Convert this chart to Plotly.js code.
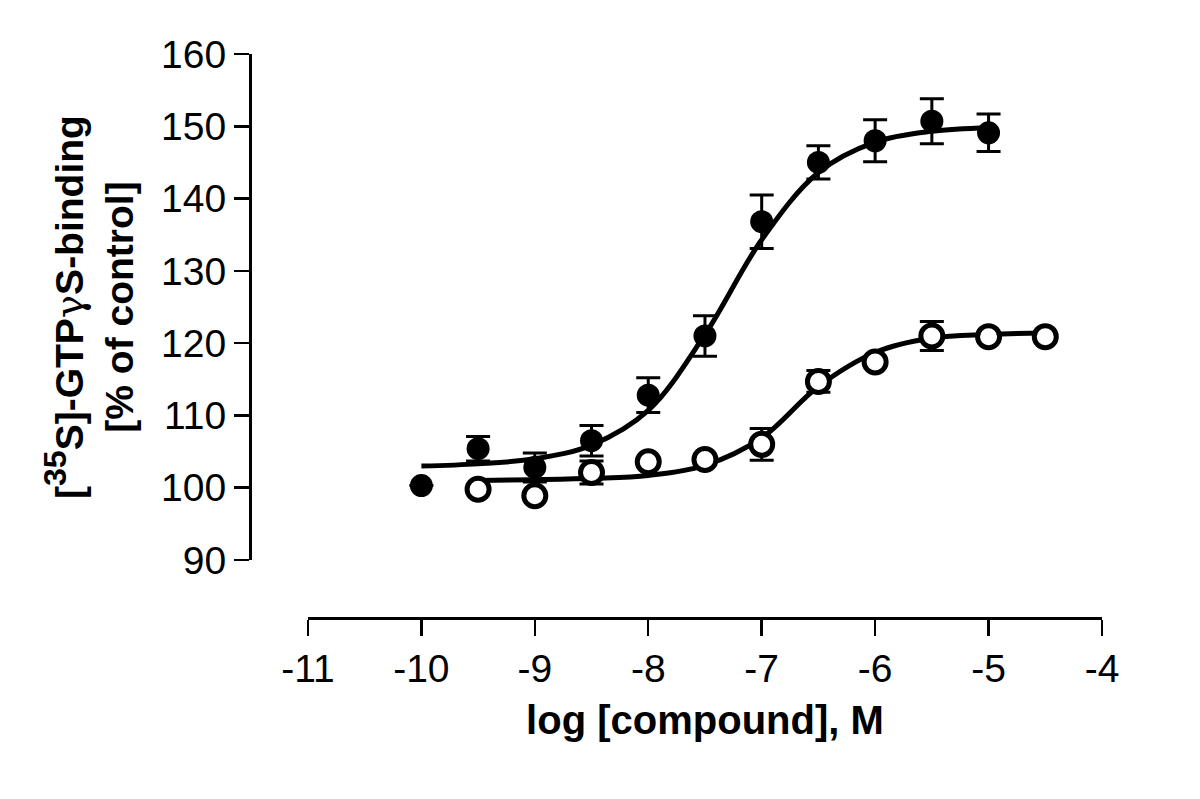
<!DOCTYPE html>
<html>
<head>
<meta charset="utf-8">
<script src="https://cdn.plot.ly/plotly-3.0.1.min.js"></script>
<style>
  html, body { margin: 0; padding: 0; background: #fff; }
  #chart { width: 1200px; height: 799px; }
</style>
</head>
<body>
<div id="chart"></div>
<script>
// log concentration of the measured points
const filledX = [-10, -9.5, -9, -8.5, -8, -7.5, -7, -6.5, -6, -5.5, -5];
const filledY = [100.3, 105.4, 102.8, 106.5, 112.8, 121.0, 136.8, 145.0, 148.0, 150.7, 149.1];
const filledErr = [0, 1.7, 2.0, 2.1, 2.4, 2.8, 3.7, 2.3, 2.9, 3.1, 2.6];

const openX = [-9.5, -9, -8.5, -8, -7.5, -7, -6.5, -6, -5.5, -5, -4.5];
const openY = [99.8, 98.9, 102.1, 103.6, 103.9, 106.0, 114.7, 117.4, 121.0, 120.9, 120.9];
const openErr = [0, 0, 1.6, 0, 0, 2.2, 1.5, 0, 2.0, 0, 0];

// fitted curves
const fitFilledX = [-10, -9.5, -9, -8.5, -8, -7.5, -7, -6.5, -6, -5.5, -5];
const fitFilledY = [103.0, 103.3, 104.0, 105.9, 110.7, 121.2, 134.3, 143.6, 147.8, 149.3, 149.8];
const fitOpenX = [-9.5, -9, -8.5, -8, -7.5, -7, -6.5, -6, -5.5, -5, -4.5];
const fitOpenY = [101.0, 101.1, 101.3, 101.7, 103.1, 106.9, 114.0, 118.7, 120.7, 121.2, 121.4];

const xTicks = [-11, -10, -9, -8, -7, -6, -5, -4];
const yTicks = [90, 100, 110, 120, 130, 140, 150, 160];

const font = "Liberation Sans, Arial, sans-serif";

function curve(x, y) {
  return {
    x, y,
    type: "scatter",
    mode: "lines",
    line: { color: "#000", width: 5, shape: "spline", smoothing: 1 },
    hoverinfo: "skip",
  };
}

function points(x, y, err, open) {
  return {
    x, y,
    type: "scatter",
    mode: "markers",
    error_y: { type: "data", array: err, visible: true, color: "#000", thickness: 3, width: 12 },
    marker: open
      ? { symbol: "circle", size: 22, color: "#fff", line: { color: "#000", width: 5 } }
      : { symbol: "circle", size: 23, color: "#000", line: { width: 0 } },
  };
}

const data = [
  curve(fitFilledX, fitFilledY),
  curve(fitOpenX, fitOpenY),
  points(filledX, filledY, filledErr, false),
  points(openX, openY, openErr, true),
];

const layout = {
  width: 1200,
  height: 799,
  showlegend: false,
  paper_bgcolor: "#fff",
  plot_bgcolor: "#fff",
  margin: { l: 250, r: 98, t: 54, b: 181 },
  font: { family: font, color: "#000" },
  xaxis: {
    domain: [0.068, 1],
    range: [-11, -4],
    anchor: "free",
    position: 0,
    tickvals: xTicks,
    ticktext: xTicks.map(String),
    ticks: "outside",
    ticklen: 16,
    tickwidth: 2.5,
    tickcolor: "#000",
    showline: true,
    linewidth: 2.5,
    linecolor: "#000",
    showgrid: false,
    zeroline: false,
    tickfont: { size: 39, family: font },
    title: {
      text: "<b>log [compound], M</b>",
      font: { size: 40, family: font },
      standoff: 16,
    },
  },
  yaxis: {
    domain: [0.1028, 1],
    range: [90, 160],
    anchor: "free",
    position: 0,
    tickvals: yTicks,
    ticktext: yTicks.map(String),
    ticks: "outside",
    ticklen: 15,
    tickwidth: 2.5,
    tickcolor: "#000",
    showline: true,
    linewidth: 2.5,
    linecolor: "#000",
    showgrid: false,
    zeroline: false,
    tickfont: { size: 39, family: font },
    title: {
      text: "<b>[<sup><span style=\"font-size:32px\">35</span></sup>S]-GTP<span style=\"font-weight:normal;font-family:DejaVu Serif\">γ</span>S-binding<br>[% of control]</b>",
      font: { size: 39, family: font },
      standoff: 14,
    },
  },
};

Plotly.newPlot("chart", data, layout, { displayModeBar: false, staticPlot: true });
</script>
</body>
</html>
